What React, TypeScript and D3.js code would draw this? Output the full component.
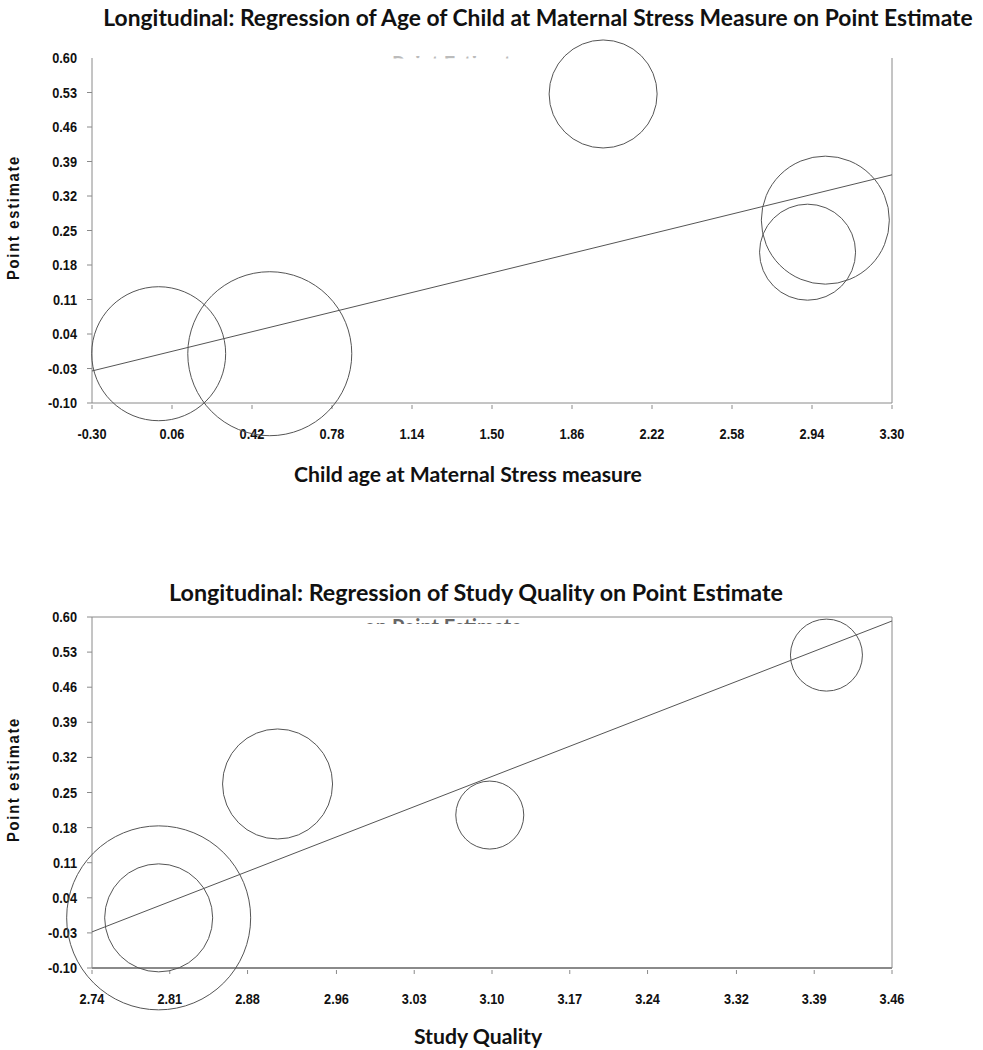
import React from "react";
import * as d3 from "d3";

// ---------- Data ----------
const ageTicks = [-0.3, 0.06, 0.42, 0.78, 1.14, 1.5, 1.86, 2.22, 2.58, 2.94, 3.3];
const qualityTicks = [2.74, 2.81, 2.88, 2.96, 3.03, 3.1, 3.17, 3.24, 3.32, 3.39, 3.46];
const estimateTicks = [-0.1, -0.03, 0.04, 0.11, 0.18, 0.25, 0.32, 0.39, 0.46, 0.53, 0.6];

// Study points for plot 1 (child age)
const ageX = [0.0, 0.5, 2.0, 3.0, 2.92];
const ageY = [0.0, 0.0, 0.527, 0.271, 0.206];
const ageWeight = [67, 82, 54, 64, 48];
const ageLine = [
  [-0.3, -0.035],
  [3.3, 0.363],
];

// Study points for plot 2 (study quality)
const qualX = [2.8, 2.8, 2.907, 3.098, 3.401];
const qualY = [0.0, 0.0, 0.267, 0.205, 0.524];
const qualWeight = [92, 54, 55, 34, 36];
const qualLine = [
  [2.74, -0.028],
  [3.46, 0.592],
];

const W = 983;
const H = 1050;

type PlotProps = {
  top: number;
  xDomain: [number, number];
  xTicks: number[];
  xs: number[];
  ys: number[];
  ws: number[];
  line: number[][];
  title: string;
  titleX: number;
  titleSize: number;
  xLabel: string;
  xLabelX: number;
  boxTop: boolean;
  id: string;
};

const tickFont = "'Liberation Sans', Arial, sans-serif";

function Plot(p: PlotProps) {
  const left = 92;
  const right = 892;
  const plotTop = p.top;
  const plotBottom = p.top + (p.boxTop ? 351 : 345);
  const x = d3.scaleLinear().domain(p.xDomain).range([left, right]);
  const y = d3.scaleLinear().domain([-0.1, 0.6]).range([plotBottom, plotTop]);
  const r = d3.scaleLinear().domain([0, 1]).range([0, 1]);
  const lineGen = d3
    .line<number[]>()
    .x((d) => x(d[0]))
    .y((d) => y(d[1]));
  const axisColor = "#8a8a8a";
  const midY = (plotTop + plotBottom) / 2 - 13;
  return (
    <g>
      <defs>
        <clipPath id={"ghost-" + p.id}>
          <rect x={340} y={plotTop - 2} width={220} height={p.boxTop ? 9 : 2.5} />
        </clipPath>
      </defs>
      <text
        x={p.titleX}
        y={plotTop - (p.boxTop ? 16 : 32)}
        textAnchor="middle"
        fontFamily="Lato, 'Open Sans', sans-serif"
        fontWeight={700}
        fontSize={p.titleSize}
        fill="#111"
      >
        {p.title}
      </text>
      {/* ghost text partially hidden */}
      <g clipPath={`url(#ghost-${p.id})`}>
        <text
          x={443}
          y={plotTop + (p.boxTop ? 17 : 13)}
          textAnchor="middle"
          fontFamily="Lato, sans-serif"
          fontWeight={700}
          fontSize={20}
          fill={p.boxTop ? "#666" : "#bbb"}
        >
          on Point Estimate
        </text>
      </g>
      {/* frame */}
      <line x1={left} x2={left} y1={plotTop} y2={plotBottom} stroke={axisColor} />
      <line x1={left} x2={right} y1={plotBottom} y2={plotBottom} stroke={axisColor} strokeWidth={p.boxTop ? 2 : 1} />
      <line x1={right} x2={right} y1={plotTop} y2={plotBottom} stroke={axisColor} />
      {p.boxTop && <line x1={left} x2={right} y1={plotTop} y2={plotTop} stroke={axisColor} />}
      {/* y ticks */}
      {estimateTicks.map((t, i) => (
        <g key={"y" + i}>
          {(i < estimateTicks.length - 1 || p.boxTop) && (
            <line x1={left - 5} x2={left} y1={y(t)} y2={y(t)} stroke={axisColor} />
          )}
          <text
            transform={`translate(${left - 15}, ${y(t) + 5}) scale(0.85, 1)`}
            textAnchor="end"
            fontFamily={tickFont}
            fontWeight={700}
            fontSize={15}
            fill="#111"
          >
            {t.toFixed(2)}
          </text>
        </g>
      ))}
      {/* x ticks */}
      {p.xTicks.map((t, i) => (
        <g key={"x" + i}>
          <line x1={x(t)} x2={x(t)} y1={plotBottom + 2} y2={plotBottom + 6} stroke={axisColor} />
          <text
            transform={`translate(${x(t)}, ${plotBottom + 36}) scale(0.85, 1)`}
            textAnchor="middle"
            fontFamily={tickFont}
            fontWeight={700}
            fontSize={15}
            fill="#111"
          >
            {t.toFixed(2)}
          </text>
        </g>
      ))}
      {/* circles */}
      {p.xs.map((v, i) => (
        <circle key={"c" + i} cx={x(v)} cy={y(p.ys[i])} r={r(p.ws[i])} fill="none" stroke="#555" strokeWidth={1} />
      ))}
      {/* regression line */}
      <path d={lineGen(p.line) || ""} fill="none" stroke="#555" strokeWidth={1} />
      {/* axis labels */}
      <text
        x={p.xLabelX}
        y={plotBottom + (p.boxTop ? 76 : 79)}
        textAnchor="middle"
        fontFamily="Lato, 'Open Sans', sans-serif"
        fontWeight={700}
        fontSize={21.2}
        fill="#111"
      >
        {p.xLabel}
      </text>
      <text
        transform={`translate(19, ${midY}) rotate(-90)`}
        textAnchor="middle"
        fontFamily={tickFont}
        fontWeight={700}
        fontSize={17}
        textLength={125}
        lengthAdjust="spacingAndGlyphs"
        letterSpacing={2}
        fill="#111"
      >
        Point estimate
      </text>
    </g>
  );
}

export default function App() {
  return (
    <svg width={W} height={H} style={{ display: "block", position: "absolute", left: 0, top: 0, background: "#fff" }}>
      <rect width={W} height={H} fill="#fff" />
      <Plot
        id="a"
        top={58}
        xDomain={[-0.3, 3.3]}
        xTicks={ageTicks}
        xs={ageX}
        ys={ageY}
        ws={ageWeight}
        line={ageLine}
        title="Longitudinal: Regression of Age of Child at Maternal Stress Measure on Point Estimate"
        titleX={538}
        titleSize={22.8}
        xLabel="Child age at Maternal Stress measure"
        xLabelX={468}
        boxTop={false}
      />
      <Plot
        id="b"
        top={617}
        xDomain={[2.74, 3.46]}
        xTicks={qualityTicks}
        xs={qualX}
        ys={qualY}
        ws={qualWeight}
        line={qualLine}
        title="Longitudinal: Regression of Study Quality on Point Estimate"
        titleX={476}
        titleSize={23.3}
        xLabel="Study Quality"
        xLabelX={478}
        boxTop={true}
      />
    </svg>
  );
}
